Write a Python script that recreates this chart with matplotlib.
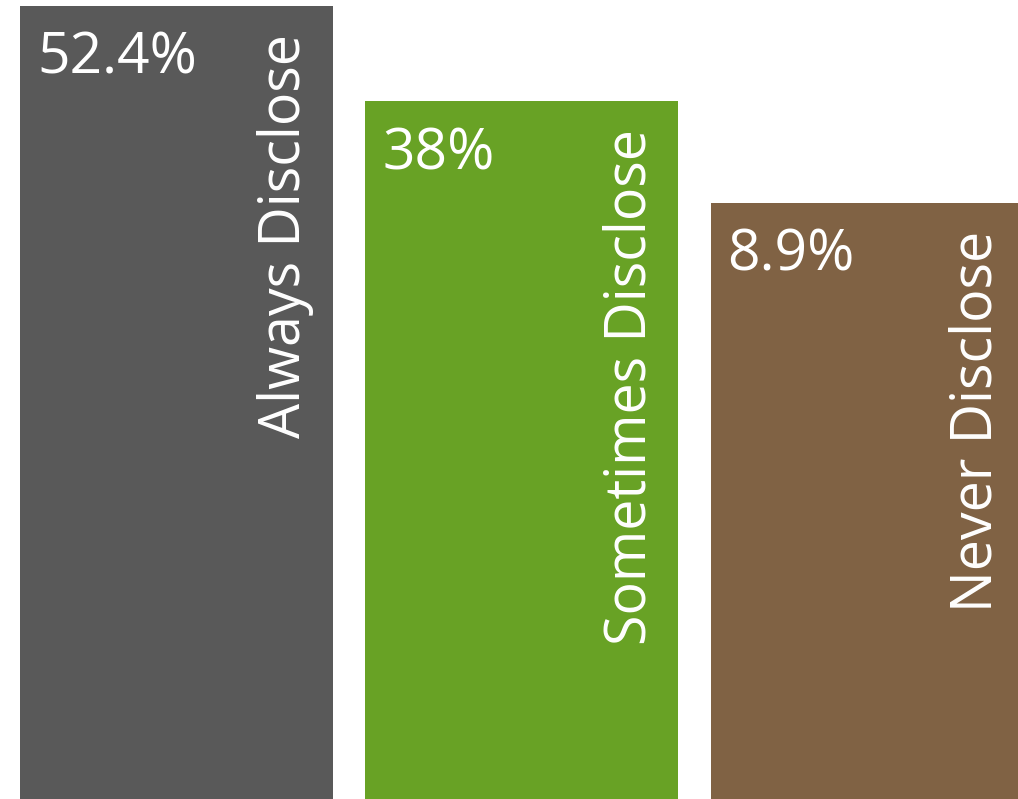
import matplotlib
matplotlib.use("Agg")
import matplotlib.pyplot as plt

categories = ["Always Disclose", "Sometimes Disclose", "Never Disclose"]
pct_labels = ["52.4%", "38%", "8.9%"]
bar_heights = [100.0, 88.0, 75.2]
colors = ["#595959", "#68A225", "#806244"]

W, H = 1018, 799
fig = plt.figure(figsize=(W / 100, H / 100), dpi=100)
ax = fig.add_axes([0, 0, 1, 1])

pitch_px = 345.3
width = 313.0 / pitch_px
left0_px = 20.0
xmin = -(left0_px + 313.0 / 2) / pitch_px
xmax = xmin + W / pitch_px
ymax = bar_heights[0] * H / 793.0

x = list(range(len(categories)))
bars = ax.bar(x, bar_heights, width=width, color=colors, edgecolor="none")
ax.set_xlim(xmin, xmax)
ax.set_ylim(0, ymax)
ax.axis("off")

font = "Open Sans"
for xi, h, pct, cat in zip(x, bar_heights, pct_labels, categories):
    left = xi - width / 2
    ax.annotate(pct, xy=(left, h), xycoords="data", xytext=(17, -25),
                textcoords="offset pixels", ha="left", va="top",
                fontsize=41, color="white", family=font)
    ax.annotate(cat, xy=(left, h), xycoords="data", xytext=(266, -28),
                textcoords="offset pixels", ha="center", va="top",
                rotation=90, fontsize=40, color="white", family=font)

fig.savefig("out.png", dpi=100)
